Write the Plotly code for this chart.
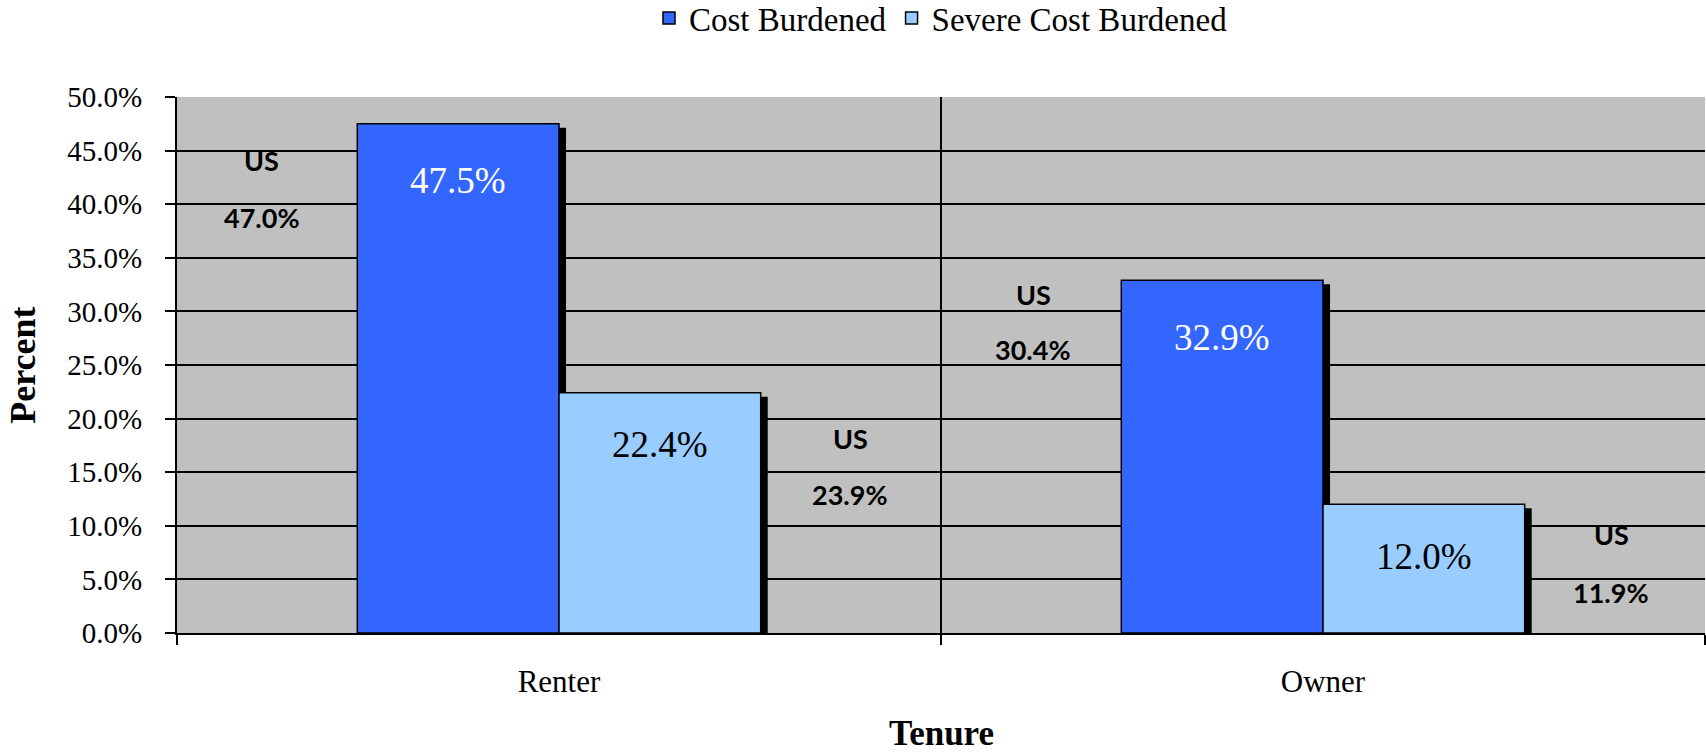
import plotly.graph_objects as go

# --- data ---
tenure = ["Renter", "Owner"]
cost_burdened = [47.5, 32.9]
severe_cost_burdened = [22.4, 12.0]
us_cost_burdened = [47.0, 30.4]
us_severe_cost_burdened = [23.9, 11.9]

# layout helpers (category units / percent units)
bar_w = 0.264
shadow_dx = 0.0092
shadow_dy = 0.37
# where the "US" text boxes sit: (x offset from category centre, y of "US", y of value)
us_cb_pos = [(-0.389, 44.1, 38.75), (-0.379, 31.6, 26.4)]
us_scb_pos = [(0.381, 18.1, 12.9), (0.377, 9.2, 3.8)]

SERIF = "Liberation Serif, Times New Roman, serif"
SANS = "Lato, Noto Sans, sans-serif"

fig = go.Figure()

def add_series(vals, name, color, offset):
    # drop shadow first, then the bar itself
    fig.add_trace(go.Bar(x=tenure, y=[v - shadow_dy for v in vals], width=bar_w,
                         offset=offset + shadow_dx, marker=dict(color="black", line=dict(width=0)),
                         showlegend=False, hoverinfo="skip"))
    fig.add_trace(go.Bar(x=tenure, y=vals, width=bar_w, offset=offset, name=name,
                         marker=dict(color=color, line=dict(color="black", width=1.5))))

add_series(cost_burdened, "Cost Burdened", "#3366FF", -bar_w)
add_series(severe_cost_burdened, "Severe Cost Burdened", "#99CCFF", 0)

annotations = []
# value labels inside the bars
for i, v in enumerate(cost_burdened):
    annotations.append(dict(x=i - bar_w / 2, y=v, yshift=-57, text=f"{v:.1f}%", showarrow=False,
                            font=dict(family=SERIF, size=37, color="white")))
for i, v in enumerate(severe_cost_burdened):
    annotations.append(dict(x=i + bar_w / 2, y=v, yshift=-52, text=f"{v:.1f}%", showarrow=False,
                            font=dict(family=SERIF, size=37, color="black")))
# US comparison labels
for vals, pos in ((us_cost_burdened, us_cb_pos), (us_severe_cost_burdened, us_scb_pos)):
    for i, (v, (dx, y_us, y_val)) in enumerate(zip(vals, pos)):
        annotations.append(dict(x=i + dx, y=y_us, text="<b>US</b>", showarrow=False,
                                font=dict(family=SANS, size=27, color="black")))
        annotations.append(dict(x=i + dx, y=y_val, text=f"<b>{v:.1f}%</b>", showarrow=False,
                                font=dict(family=SANS, size=27, color="black")))

# axis titles
annotations.append(dict(xref="paper", yref="paper", x=-0.101, y=0.5, xanchor="center",
                        yanchor="middle", text="<b>Percent</b>", textangle=-90, showarrow=False,
                        font=dict(family=SERIF, size=36, color="black")))
annotations.append(dict(xref="paper", yref="paper", x=0.5, y=-0.188, xanchor="center",
                        yanchor="middle", text="<b>Tenure</b>", showarrow=False,
                        font=dict(family=SERIF, size=35, color="black")))

fig.update_layout(
    width=1706, height=755,
    barmode="overlay",
    plot_bgcolor="#C0C0C0",
    paper_bgcolor="white",
    margin=dict(l=177, r=1, t=97, b=122),
    showlegend=True,
    legend=dict(orientation="h", x=0.5, xanchor="center", yref="container", y=0.976,
                yanchor="middle", font=dict(family=SERIF, size=33, color="black"),
                bgcolor="rgba(0,0,0,0)"),
    annotations=annotations,
    xaxis=dict(type="category", range=[-0.5, 1.5], tickson="boundaries", ticks="outside",
               ticklen=10, tickwidth=2, tickcolor="black", showgrid=True, gridcolor="black",
               gridwidth=2, showline=True, linecolor="black", linewidth=2,
               ticklabelstandoff=20, tickfont=dict(family=SERIF, size=31, color="black")),
    yaxis=dict(range=[0, 50], dtick=5, tickformat=".1f", ticksuffix="%", ticks="outside",
               ticklen=10, tickwidth=2, tickcolor="black", showgrid=True, gridcolor="black",
               gridwidth=2, zeroline=False, showline=True, linecolor="black", linewidth=2,
               ticklabelstandoff=17, tickfont=dict(family=SERIF, size=29, color="black")),
)

fig.write_html("out.html", config={"displayModeBar": False},
               post_script="document.body.style.margin='0';document.body.style.overflow='hidden';")
